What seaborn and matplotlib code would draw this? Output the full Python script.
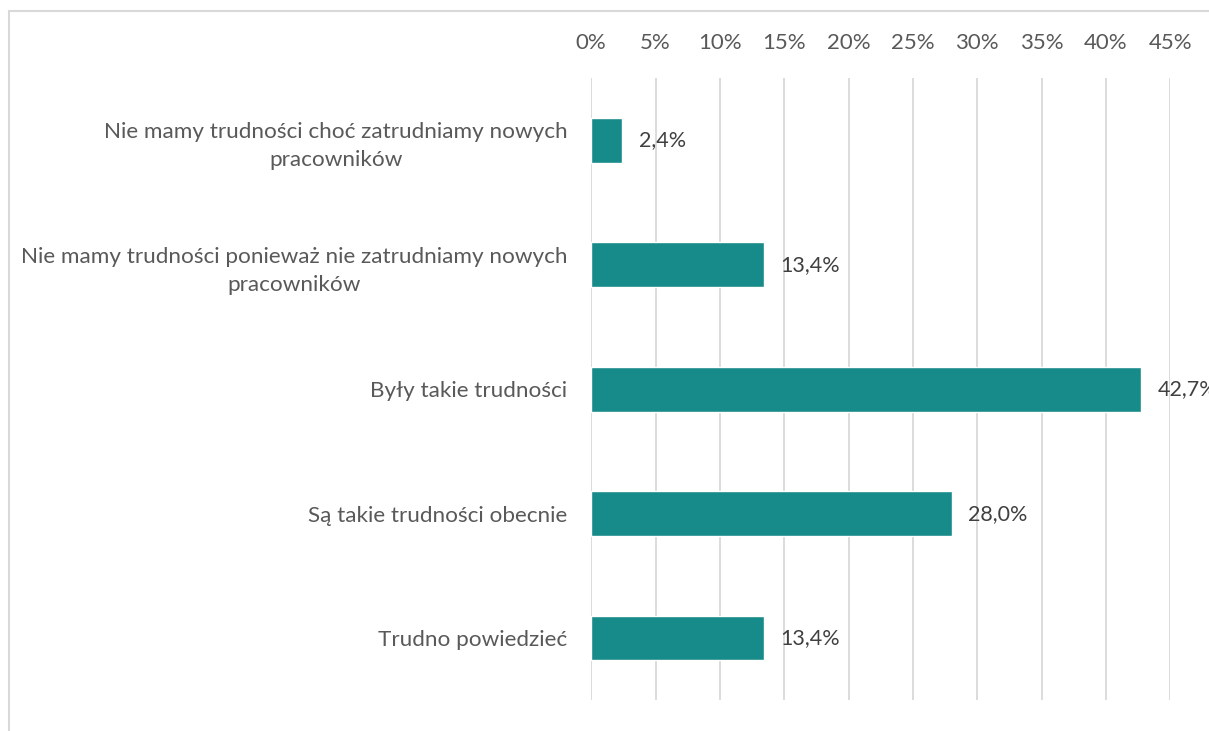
import matplotlib
matplotlib.use("Agg")
import matplotlib.pyplot as plt
import seaborn as sns
import pandas as pd
from matplotlib.patches import Rectangle

# data
categories = [
    "Nie mamy trudności choć zatrudniamy nowych\npracowników",
    "Nie mamy trudności ponieważ nie zatrudniamy nowych\npracowników",
    "Były takie trudności",
    "Są takie trudności obecnie",
    "Trudno powiedzieć",
]
values = [2.4, 13.4, 42.7, 28.0, 13.4]
ticks = [0, 5, 10, 15, 20, 25, 30, 35, 40, 45]

df = pd.DataFrame({"kategoria": categories, "udzial": values})

sns.set_theme(style="white")
plt.rcParams['font.family'] = ['Lato', 'DejaVu Sans']

fig = plt.figure(figsize=(12.09, 7.31), dpi=100)
ax = fig.add_axes([0.489, 0.042, 0.479, 0.851])

sns.barplot(data=df, x="udzial", y="kategoria", orient="h", color="#178b8a",
            width=0.36, saturation=1, ax=ax)

ax.set_xlim(0, 45)
ax.set_xticks(ticks)
ax.set_xticklabels([f"{t}%" for t in ticks])
ax.xaxis.tick_top()
ax.tick_params(axis="x", length=0, pad=18, labelsize=16, labelcolor="#595959")
ax.tick_params(axis="y", length=0, pad=17, labelsize=16.2, labelcolor="#595959")
for lab in ax.get_yticklabels():
    lab.set_multialignment("center")
    lab.set_linespacing(1.5)
ax.set_xlabel("")
ax.set_ylabel("")
ax.grid(axis="x", color="#d9d9d9", linewidth=1.3)
ax.set_axisbelow(True)
for s in ax.spines.values():
    s.set_visible(False)

# value labels
for i, v in enumerate(values):
    ax.text(v + 1.3, i, f"{v:.1f}%".replace(".", ","), va="center", ha="left",
            fontsize=15.5, color="#404040", clip_on=False)

# light frame around the chart area
fig.patches.append(Rectangle((9 / 1209, -0.05), 1.1, 1 - 11 / 731 + 0.05,
                             transform=fig.transFigure, fill=False,
                             edgecolor="#d9d9d9", linewidth=1.5))

fig.savefig("out.png", dpi=100)
